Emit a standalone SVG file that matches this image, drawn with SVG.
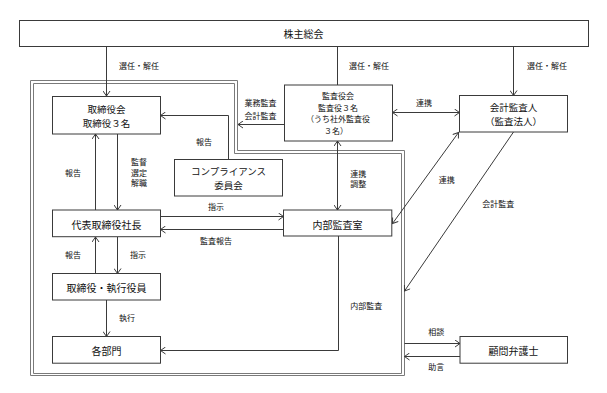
<svg xmlns="http://www.w3.org/2000/svg" width="607" height="393" viewBox="0 0 607 393">
<style>
.box{fill:#fff;stroke:#3a3a3a;stroke-width:1}
.ln{fill:none;stroke:#3a3a3a;stroke-width:1}
.brd{fill:none;stroke:#7a7a7a;stroke-width:1}
.t{font-family:"Noto Sans CJK JP","Noto Sans CJK SC",sans-serif;font-size:10px;fill:#111;text-anchor:middle;dominant-baseline:central}
.t2{font-family:"Noto Sans CJK JP","Noto Sans CJK SC",sans-serif;font-size:9.5px;fill:#111;text-anchor:middle;dominant-baseline:central}
.m{font-family:"Noto Sans CJK JP","Noto Sans CJK SC",sans-serif;font-size:8px;fill:#111;text-anchor:middle;dominant-baseline:central}
.s{font-family:"Noto Sans CJK JP","Noto Sans CJK SC",sans-serif;font-size:8px;fill:#111;text-anchor:middle;dominant-baseline:central}
</style>
<defs>
<marker id="ah" markerUnits="userSpaceOnUse" markerWidth="8" markerHeight="8" viewBox="0 0 8 8" refX="7" refY="4" orient="auto-start-reverse">
<path d="M2,0.5 L7,4 L2,7.5" fill="none" stroke="#3a3a3a" stroke-width="1"/>
</marker>
</defs>
<rect width="607" height="393" fill="#fff"/>
<g id="border">
<path class="brd" d="M30.5,80.5 H237.5 V150.5 H404.5 V375.5 H30.5 Z"/>
<path class="brd" d="M33.5,83.5 H234.5 V153.5 H401.5 V373.5 H33.5 Z"/>
</g>
<g id="connectors">
<path class="ln" d="M106.5,46 V96" marker-end="url(#ah)"/>
<path class="ln" d="M337.5,46 V85"/>
<path class="ln" d="M513.5,46 V95.5" marker-end="url(#ah)"/>
<path class="ln" d="M228.5,159.5 V115.5 H160.5" marker-end="url(#ah)"/>
<path class="ln" d="M284,124.5 H238" marker-end="url(#ah)"/>
<path class="ln" d="M392.5,112.5 H459.5" marker-start="url(#ah)" marker-end="url(#ah)"/>
<path class="ln" d="M117.5,134 V210" marker-end="url(#ah)"/>
<path class="ln" d="M95.5,210 V134" marker-end="url(#ah)"/>
<path class="ln" d="M337.5,141 V210" marker-start="url(#ah)" marker-end="url(#ah)"/>
<path class="ln" d="M392.5,223.5 L458.5,132.5" marker-start="url(#ah)" marker-end="url(#ah)"/>
<path class="ln" d="M513.5,132 L404.5,291" marker-end="url(#ah)"/>
<path class="ln" d="M160.5,216.5 H283.5" marker-end="url(#ah)"/>
<path class="ln" d="M283.5,229.5 H160.5" marker-end="url(#ah)"/>
<path class="ln" d="M95.5,273.5 V237" marker-end="url(#ah)"/>
<path class="ln" d="M117.5,237 V273.5" marker-end="url(#ah)"/>
<path class="ln" d="M106.5,300 V336.5" marker-end="url(#ah)"/>
<path class="ln" d="M338.5,236 V350.5 H160.5" marker-end="url(#ah)"/>
<path class="ln" d="M404.5,343.5 H460" marker-end="url(#ah)"/>
<path class="ln" d="M460,356.5 H404.5" marker-end="url(#ah)"/>
</g>
<g id="labels">
<text class="s" x="139" y="65">選任・解任</text>
<text class="s" x="369" y="65">選任・解任</text>
<text class="s" x="547" y="65">選任・解任</text>
<text class="s" x="204" y="141.7">報告</text>
<text class="s" x="260.5" y="102.5">業務監査</text>
<text class="s" x="260.5" y="115">会計監査</text>
<text class="s" x="424" y="102.3">連携</text>
<text class="s" x="139" y="161.7">監督</text>
<text class="s" x="139" y="172.3">選定</text>
<text class="s" x="139" y="182">解職</text>
<text class="s" x="73" y="172.3">報告</text>
<text class="s" x="358.3" y="173.3">連携</text>
<text class="s" x="358.3" y="183.3">調整</text>
<text class="s" x="446.7" y="179">連携</text>
<text class="s" x="498.3" y="203.3">会計監査</text>
<text class="s" x="216" y="206">指示</text>
<text class="s" x="216" y="240.7">監査報告</text>
<text class="s" x="73" y="254">報告</text>
<text class="s" x="138" y="254">指示</text>
<text class="s" x="127" y="317.3">執行</text>
<text class="s" x="366.3" y="305">内部監査</text>
<text class="s" x="436.3" y="331">相談</text>
<text class="s" x="436.3" y="366.7">助言</text>
</g>
<g id="n-shareholders">
<rect class="box" x="19.5" y="20.5" width="569" height="26"/>
<text class="t" x="303.5" y="33.5">株主総会</text>
</g>
<g id="n-board">
<rect class="box" x="52.5" y="96.5" width="108" height="37.5"/>
<text class="t2" x="106.5" y="108.5">取締役会</text>
<text class="t2" x="106.5" y="122.5">取締役３名</text>
</g>
<g id="n-auditors">
<rect class="box" x="284.5" y="85" width="108" height="56"/>
<text class="m" x="338" y="95.6">監査役会</text>
<text class="m" x="338" y="107.2">監査役３名</text>
<text class="m" x="338" y="118.8">（うち社外監査役</text>
<text class="m" x="336" y="130.4">３名）</text>
</g>
<g id="n-accounting">
<rect class="box" x="459.5" y="95.5" width="108" height="36.5"/>
<text class="t2" x="513.5" y="106.8">会計監査人</text>
<text class="t2" x="513.5" y="120.8">（監査法人）</text>
</g>
<g id="n-compliance">
<rect class="box" x="174.5" y="159.5" width="108" height="36.5"/>
<text class="t2" x="228.5" y="170.8">コンプライアンス</text>
<text class="t2" x="228.5" y="184.8">委員会</text>
</g>
<g id="n-president">
<rect class="box" x="52.5" y="210" width="108" height="26.7"/>
<text class="t" x="106.5" y="224">代表取締役社長</text>
</g>
<g id="n-internal-audit">
<rect class="box" x="283.5" y="210" width="108.3" height="26"/>
<text class="t" x="337.5" y="224">内部監査室</text>
</g>
<g id="n-officers">
<rect class="box" x="52.5" y="273.5" width="108" height="26.5"/>
<text class="t" x="106.5" y="287">取締役・執行役員</text>
</g>
<g id="n-departments">
<rect class="box" x="52.5" y="336.5" width="108" height="26.7"/>
<text class="t" x="106.5" y="350">各部門</text>
</g>
<g id="n-lawyer">
<rect class="box" x="460" y="336.5" width="107.5" height="26.7"/>
<text class="t" x="513.5" y="350">顧問弁護士</text>
</g>
</svg>
